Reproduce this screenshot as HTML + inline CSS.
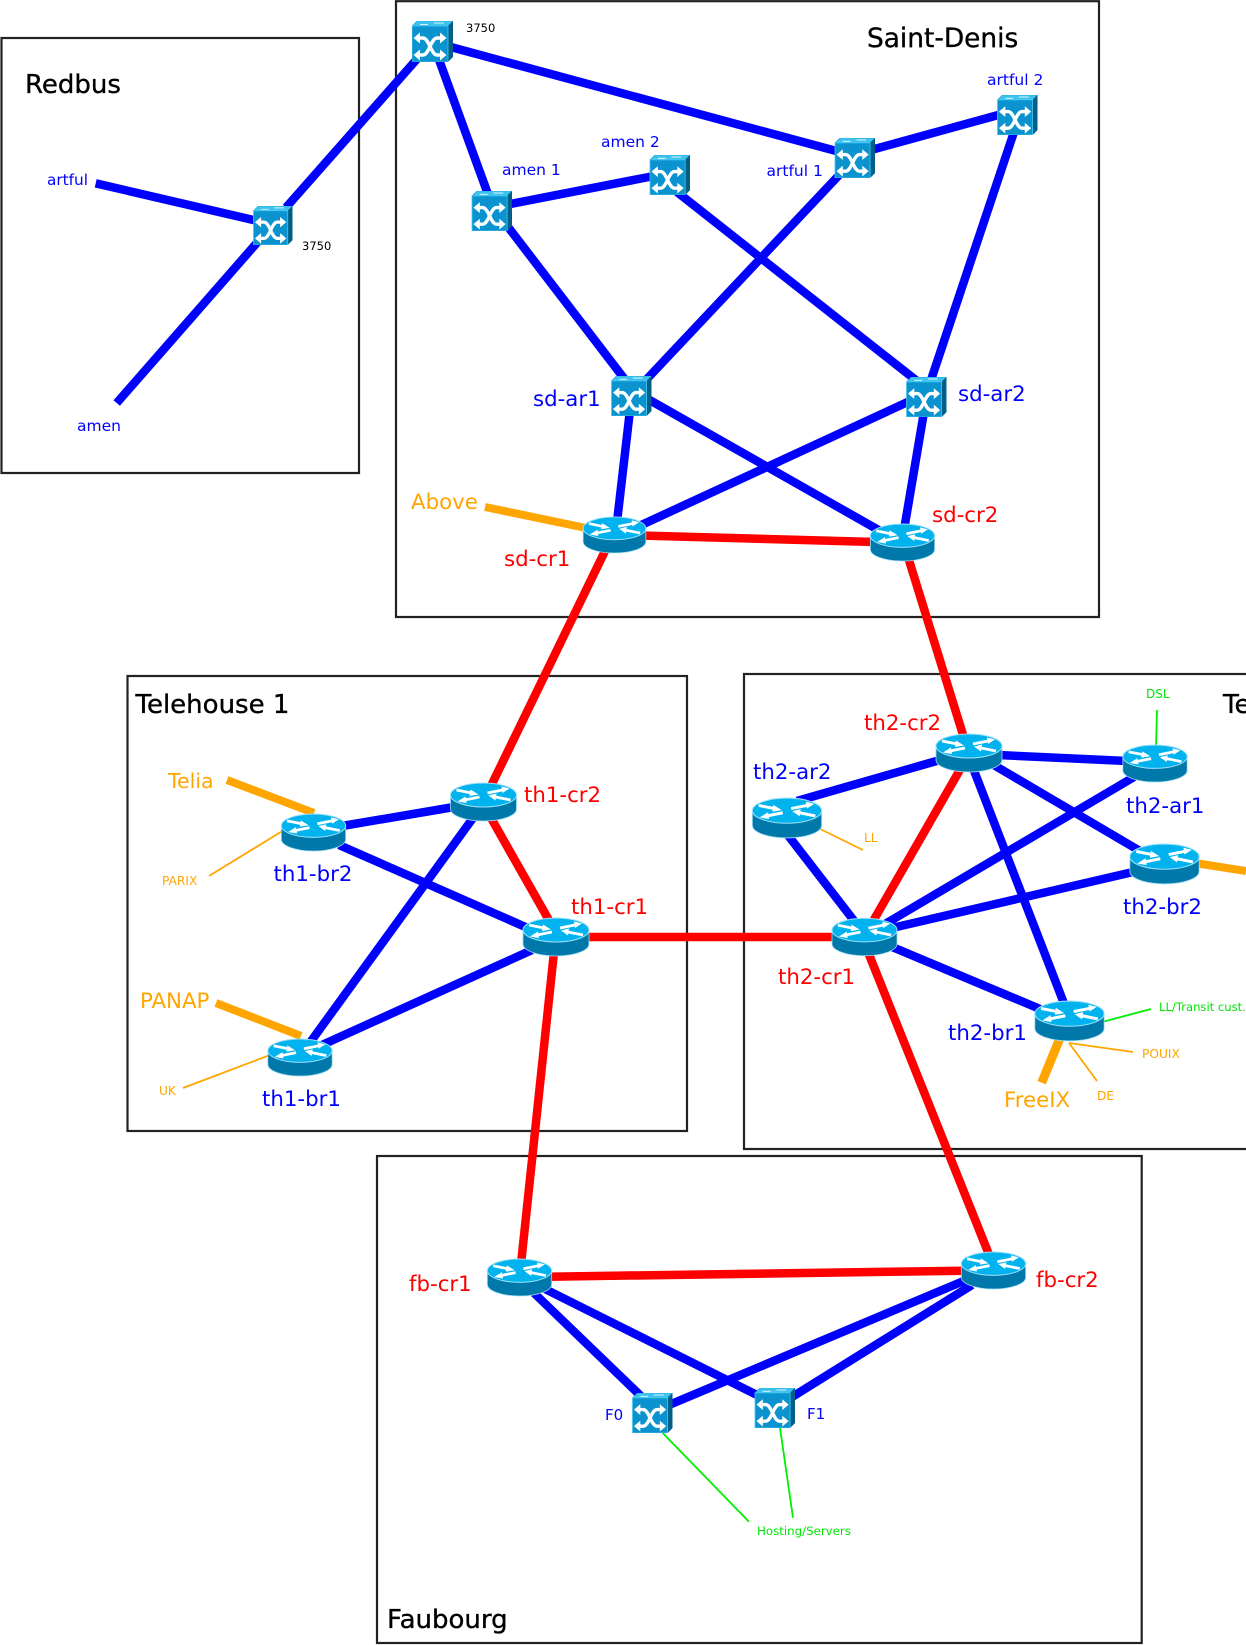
<!DOCTYPE html>
<html><head><meta charset="utf-8"><style>
html,body{margin:0;padding:0;background:#fff;}
svg{display:block;}
text{font-family:"DejaVu Sans","Liberation Sans",sans-serif;}
.b{fill:#0000ff}.r{fill:#ff0000}.o{fill:#ffa500}.g{fill:#00e600}.k{fill:#000}
.t{stroke:#000;stroke-width:0.35}
</style></head><body>
<svg width="1246" height="1645" viewBox="0 0 1246 1645" xmlns="http://www.w3.org/2000/svg">
<defs>
<symbol id="sw" viewBox="0 0 41 41">
 <polygon points="0,5 5,0 41,0 36,5" fill="#3ec3ef" stroke="#1a9fd6" stroke-width="0.6"/>
 <path d="M8,3.5 H16 M22,2 H32" stroke="#d8f3ff" stroke-width="1"/>
 <polygon points="36,5 41,0 41,36 36,41" fill="#005f88"/>
 <rect x="0" y="5" width="36" height="36" fill="#0a93cf" stroke="#49c8f2" stroke-width="0.8"/>
 <g stroke="#fff" stroke-width="3.4" fill="none">
  <path d="M6,17 H11 C17,17 19,34 25,34 H30"/>
  <path d="M6,34 H11 C17,34 19,17 25,17 H30"/>
 </g>
 <g fill="#fff">
  <polygon points="1.5,17 8,11.5 8,22.5"/>
  <polygon points="34.5,17 28,11.5 28,22.5"/>
  <polygon points="1.5,34 8,28.5 8,39.5"/>
  <polygon points="34.5,34 28,28.5 28,39.5"/>
 </g>
</symbol>
<symbol id="rt" viewBox="0 0 68 40">
 <path d="M1,13 L1,27 A33,12 0 0 0 67,27 L67,13 Z" fill="#0079aa" stroke="#9fdcf4" stroke-width="0.8"/>
 <ellipse cx="34" cy="13" rx="33" ry="12" fill="#00b3ef" stroke="#9fe0f8" stroke-width="1"/>
 <g stroke="#fff" stroke-width="2.8" fill="none">
  <line x1="7" y1="8" x2="22" y2="11"/>
  <line x1="61" y1="18" x2="46" y2="15"/>
  <line x1="30" y1="15" x2="15" y2="18"/>
  <line x1="38" y1="11" x2="53" y2="8"/>
 </g>
 <g fill="#fff">
  <polygon points="29,12.5 21,7.5 20,14"/>
  <polygon points="39,13.5 47,11.5 46,18.5"/>
  <polygon points="8,19.5 16,14.5 17,21"/>
  <polygon points="60,6.5 52,4.5 53,11"/>
 </g>
</symbol>
</defs>

<!-- boxes -->
<g fill="none" stroke="#222" stroke-width="2.2">
 <rect x="1.5" y="38" width="357.5" height="435"/>
 <rect x="396" y="1.2" width="703" height="615.8"/>
 <rect x="127.5" y="676" width="559.5" height="455"/>
 <rect x="744" y="674" width="520" height="475"/>
 <rect x="377" y="1156" width="764.7" height="487"/>
</g>

<!-- blue links -->
<g stroke="#0000ff" stroke-width="8.5" fill="none" stroke-linecap="butt">
 <line x1="95.7" y1="183.3" x2="262" y2="222"/>
 <line x1="116.7" y1="403" x2="262" y2="237"/>
 <line x1="286" y1="207.5" x2="421" y2="54.5"/>
 <line x1="447" y1="46" x2="840" y2="152"/>
 <line x1="438" y1="57" x2="489" y2="197"/>
 <line x1="508" y1="204.5" x2="654" y2="176"/>
 <line x1="505" y1="223" x2="626" y2="381"/>
 <line x1="677" y1="192" x2="917" y2="381"/>
 <line x1="871" y1="150" x2="1002" y2="114"/>
 <line x1="842" y1="172" x2="645" y2="381"/>
 <line x1="1015" y1="129" x2="930" y2="383"/>
 <line x1="630" y1="410" x2="617" y2="522"/>
 <line x1="646" y1="398" x2="882" y2="532"/>
 <line x1="912" y1="400" x2="637" y2="527"/>
 <line x1="924" y1="412" x2="904" y2="530"/>
 <line x1="454" y1="807" x2="342" y2="826"/>
 <line x1="473" y1="818" x2="309" y2="1044"/>
 <line x1="339" y1="845" x2="530" y2="929"/>
 <line x1="322" y1="1045" x2="532" y2="950"/>
 <line x1="940" y1="760" x2="797" y2="801"/>
 <line x1="998" y1="755" x2="1127" y2="761"/>
 <line x1="992" y1="764" x2="1140" y2="851"/>
 <line x1="973" y1="768" x2="1065" y2="1006"/>
 <line x1="787" y1="834" x2="855" y2="922"/>
 <line x1="1134" y1="777" x2="885" y2="924"/>
 <line x1="1133" y1="872" x2="892" y2="928"/>
 <line x1="890" y1="946" x2="1040" y2="1009"/>
 <line x1="534" y1="1293" x2="644" y2="1399"/>
 <line x1="545" y1="1289" x2="761" y2="1397"/>
 <line x1="966" y1="1280" x2="669" y2="1405"/>
 <line x1="972" y1="1285" x2="792" y2="1397"/>
</g>

<!-- red links -->
<g stroke="#ff0000" stroke-width="8.5" fill="none">
 <line x1="640" y1="535.5" x2="875" y2="542"/>
 <line x1="606" y1="549" x2="491" y2="786"/>
 <line x1="908" y1="557" x2="964" y2="738"/>
 <line x1="491" y1="818" x2="550" y2="922"/>
 <line x1="585" y1="937" x2="835" y2="937"/>
 <line x1="554" y1="952" x2="521" y2="1264"/>
 <line x1="961" y1="768" x2="872" y2="923"/>
 <line x1="868" y1="952" x2="990" y2="1257"/>
 <line x1="548" y1="1276.7" x2="965" y2="1270.7"/>
</g>

<!-- orange thick -->
<g stroke="#ffa500" stroke-width="8" fill="none">
 <line x1="485" y1="507" x2="586" y2="528"/>
 <line x1="227" y1="780" x2="314" y2="813"/>
 <line x1="216" y1="1003" x2="301" y2="1036"/>
 <line x1="1195" y1="863" x2="1246" y2="871"/>
 <line x1="1060" y1="1038" x2="1041.7" y2="1082.7" stroke-width="9"/>
</g>
<!-- thin -->
<g stroke="#ffa500" stroke-width="1.8" fill="none">
 <line x1="209" y1="876" x2="284" y2="830"/>
 <line x1="183" y1="1088" x2="270" y2="1055"/>
 <line x1="816" y1="827" x2="863" y2="850"/>
 <line x1="1069" y1="1043" x2="1133" y2="1052"/>
 <line x1="1069" y1="1043" x2="1097" y2="1081"/>
</g>
<g stroke="#00ee00" stroke-width="1.8" fill="none">
 <line x1="1157" y1="710" x2="1156" y2="748"/>
 <line x1="1102" y1="1022" x2="1151" y2="1009"/>
 <line x1="662.7" y1="1433" x2="749" y2="1521.7"/>
 <line x1="780" y1="1427.7" x2="793" y2="1517.7"/>
</g>

<!-- switches -->
<use href="#sw" x="412" y="21" width="41" height="41"/>
<use href="#sw" x="253" y="206" width="40" height="39"/>
<use href="#sw" x="471" y="191" width="42" height="40"/>
<use href="#sw" x="649" y="155" width="42" height="40"/>
<use href="#sw" x="834" y="138" width="42" height="40"/>
<use href="#sw" x="997" y="95" width="41" height="40"/>
<use href="#sw" x="611" y="376" width="41" height="40"/>
<use href="#sw" x="906" y="377" width="41" height="40"/>
<use href="#sw" x="632" y="1393" width="41" height="40"/>
<use href="#sw" x="754" y="1388" width="42" height="40"/>

<!-- routers -->
<use href="#rt" x="581" y="516" width="67" height="38"/>
<use href="#rt" x="869" y="523" width="67" height="39"/>
<use href="#rt" x="449" y="782" width="69" height="40"/>
<use href="#rt" x="280" y="813" width="67" height="39"/>
<use href="#rt" x="522" y="917" width="68" height="40"/>
<use href="#rt" x="266" y="1038" width="68" height="39"/>
<use href="#rt" x="935" y="733" width="68" height="40"/>
<use href="#rt" x="751" y="797" width="72" height="42"/>
<use href="#rt" x="1121" y="744" width="68" height="39"/>
<use href="#rt" x="1128" y="843" width="73" height="42"/>
<use href="#rt" x="831" y="917" width="67" height="40"/>
<use href="#rt" x="1033" y="1000" width="73" height="42"/>
<use href="#rt" x="486" y="1258" width="67" height="39"/>
<use href="#rt" x="960" y="1251" width="67" height="39"/>

<!-- titles -->
<g class="k">
 <text class="t" x="25" y="93" font-size="26">Redbus</text>
 <text class="t" x="867" y="47" font-size="26.4">Saint-Denis</text>
 <text class="t" x="135.5" y="713" font-size="26">Telehouse 1</text>
 <text class="t" x="1223" y="713" font-size="26">Te</text>
 <text class="t" x="387" y="1628" font-size="26">Faubourg</text>
 <text x="466" y="32" font-size="11.5">3750</text>
 <text x="302" y="250" font-size="11.5">3750</text>
</g>

<!-- blue labels -->
<g class="b">
 <text x="47" y="185" font-size="15.3">artful</text>
 <text x="77" y="431" font-size="15.5">amen</text>
 <text x="502" y="175" font-size="15.5">amen 1</text>
 <text x="601" y="147" font-size="15.5">amen 2</text>
 <text x="766.5" y="176" font-size="15.5">artful 1</text>
 <text x="987" y="85" font-size="15.5">artful 2</text>
 <text x="533" y="406" font-size="21.3">sd-ar1</text>
 <text x="958" y="401" font-size="21.3">sd-ar2</text>
 <text x="273.5" y="881" font-size="21.3">th1-br2</text>
 <text x="262" y="1106" font-size="21.3">th1-br1</text>
 <text x="753" y="779" font-size="21.3">th2-ar2</text>
 <text x="1126" y="813" font-size="21.3">th2-ar1</text>
 <text x="1123" y="914" font-size="21.3">th2-br2</text>
 <text x="948" y="1040" font-size="21.3">th2-br1</text>
 <text x="605" y="1420" font-size="15">F0</text>
 <text x="807" y="1419" font-size="15">F1</text>
</g>

<!-- red labels -->
<g class="r">
 <text x="504" y="566" font-size="21.3">sd-cr1</text>
 <text x="932" y="522" font-size="21.3">sd-cr2</text>
 <text x="524" y="802" font-size="21.3">th1-cr2</text>
 <text x="571" y="914" font-size="21.3">th1-cr1</text>
 <text x="864" y="730" font-size="21.3">th2-cr2</text>
 <text x="778" y="984" font-size="21.3">th2-cr1</text>
 <text x="409" y="1291" font-size="21.3">fb-cr1</text>
 <text x="1036" y="1287" font-size="21.3">fb-cr2</text>
</g>

<!-- orange labels -->
<g class="o">
 <text x="411" y="509" font-size="21.3">Above</text>
 <text x="168" y="788" font-size="20.5">Telia</text>
 <text x="140" y="1008" font-size="21.3">PANAP</text>
 <text x="1004" y="1107" font-size="21.3">FreeIX</text>
 <text x="162" y="885" font-size="12.2">PARIX</text>
 <text x="159" y="1095" font-size="12.2">UK</text>
 <text x="864" y="842" font-size="12.2">LL</text>
 <text x="1142" y="1058" font-size="12.2">POUIX</text>
 <text x="1097" y="1100" font-size="12.2">DE</text>
</g>

<!-- green labels -->
<g class="g">
 <text x="1146" y="698" font-size="12">DSL</text>
 <text x="1159" y="1011" font-size="11.6">LL/Transit cust.</text>
 <text x="757" y="1535" font-size="11.8">Hosting/Servers</text>
</g>
</svg>
</body></html>
